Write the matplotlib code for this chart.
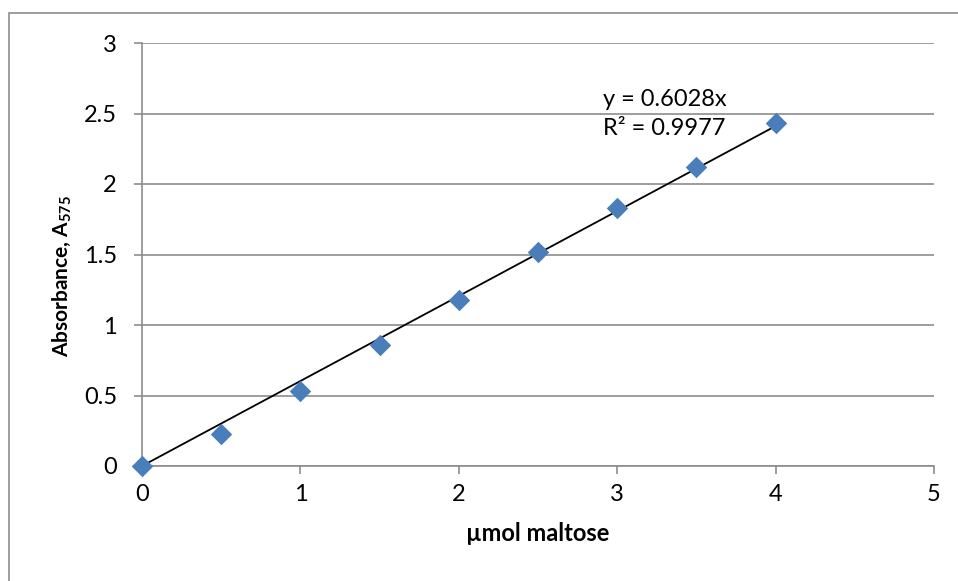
import matplotlib
matplotlib.use("Agg")
import matplotlib.pyplot as plt
from matplotlib.patches import Rectangle
import numpy as np

x_vals = [0, 0.5, 1, 1.5, 2, 2.5, 3, 3.5, 4]
y_vals = [0.0, 0.225, 0.53, 0.86, 1.18, 1.52, 1.83, 2.12, 2.43]
slope = 0.6028
r2 = 0.9977
x_ticks = [0, 1, 2, 3, 4, 5]
y_ticks = [0, 0.5, 1, 1.5, 2, 2.5, 3]
y_tick_labels = ['0', '0.5', '1', '1.5', '2', '2.5', '3']

plt.rcParams['font.family'] = ['Lato', 'DejaVu Sans']
plt.rcParams['mathtext.fontset'] = 'custom'
plt.rcParams['mathtext.rm'] = 'Lato'
plt.rcParams['mathtext.bf'] = 'Lato:bold'
plt.rcParams['mathtext.it'] = 'Lato:italic'

FS = 17
W, H = 958, 581
fig = plt.figure(figsize=(W/100, H/100), dpi=100)
fig.patches.append(Rectangle((9/W, -0.05), 1.2, 1 - 13/H + 0.05, transform=fig.transFigure,
                             fill=False, edgecolor='#8c8c8c', linewidth=1.2))
ax = fig.add_axes([142/W, 1 - 466/H, (934-142)/W, (466-43)/H])
ax.set_xlim(0, 5)
ax.set_ylim(0, 3)
ax.set_xticks(x_ticks)
ax.set_yticks(y_ticks)
ax.set_xticklabels([str(t) for t in x_ticks])
ax.set_yticklabels(y_tick_labels)
ax.grid(axis='y', color='#8c8c8c', linewidth=1.2)
ax.set_axisbelow(True)
for s in ['top', 'right']:
    ax.spines[s].set_visible(False)
for s in ['left', 'bottom']:
    ax.spines[s].set_color('#8c8c8c')
    ax.spines[s].set_linewidth(1.2)
ax.tick_params(axis='both', colors='#8c8c8c', labelcolor='black', labelsize=FS,
               length=6, width=1.2, direction='out')
ax.tick_params(axis='x', pad=7)
ax.tick_params(axis='y', pad=12)

xs = np.array([0, 4])
ax.plot(xs, slope * xs, color='black', linewidth=1.3, zorder=3)
ax.scatter(x_vals, y_vals, marker='D', s=120, color='#4a7ebb', zorder=4, clip_on=False, linewidths=0)

ax.text(2.91, 2.596, f"y = {slope}x", fontsize=FS, ha='left', va='center')
ax.text(2.91, 2.397, f"R² = {r2}", fontsize=FS, ha='left', va='center')

ax.set_xlabel('µmol maltose', fontsize=FS, fontweight='bold', labelpad=12)
ax.set_ylabel(r'Absorbance, A$_{\mathbf{575}}$', fontsize=15, fontweight='bold')
ax.yaxis.set_label_coords(-0.087, 0.45)

fig.savefig('out.png', dpi=100)
